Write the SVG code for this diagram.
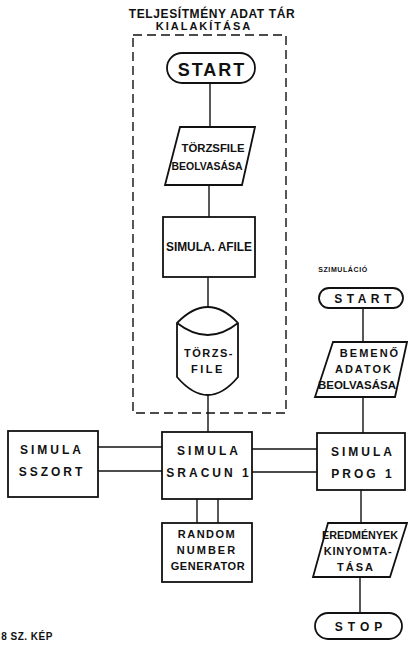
<svg xmlns="http://www.w3.org/2000/svg" width="408" height="646" viewBox="0 0 408 646">
<style>
.s{fill:none;stroke:#111;stroke-width:1.8}
.c{fill:none;stroke:#111;stroke-width:1.4}
.d{fill:none;stroke:#111;stroke-width:1.4;stroke-dasharray:9 5}
text{font-family:"Liberation Sans",Arial,sans-serif;font-weight:bold;fill:#111;text-anchor:middle}
.t{font-size:12px;letter-spacing:3px}
.n{font-size:11px}
</style>
<rect width="408" height="646" fill="#fff"/>
<g id="title">
<text x="212" y="18" font-size="12" letter-spacing="0.6">TELJESÍTMÉNY ADAT TÁR</text>
<text x="204" y="30" font-size="11" letter-spacing="2">KIALAKÍTÁSA</text>
<rect x="133" y="35" width="153" height="378" class="d"/>
</g>
<g id="connectors">
<line x1="210" y1="83" x2="210" y2="127" class="c"/>
<line x1="209" y1="185" x2="209" y2="217" class="c"/>
<line x1="208" y1="277" x2="208" y2="307" class="c"/>
<line x1="208" y1="395" x2="208" y2="432" class="c"/>
<line x1="98" y1="447" x2="162" y2="447" class="c"/>
<line x1="98" y1="471" x2="162" y2="471" class="c"/>
<line x1="252" y1="449" x2="317" y2="449" class="c"/>
<line x1="252" y1="472" x2="317" y2="472" class="c"/>
<line x1="197" y1="499" x2="197" y2="523" class="c"/>
<line x1="218" y1="499" x2="218" y2="523" class="c"/>
<line x1="363" y1="308" x2="363" y2="342" class="c"/>
<line x1="363" y1="397" x2="363" y2="433" class="c"/>
<line x1="361" y1="490" x2="361" y2="523" class="c"/>
<line x1="360" y1="577" x2="360" y2="613" class="c"/>
</g>
<g id="start1">
<rect x="167" y="53" width="88" height="30" rx="15" class="s"/>
<text x="212" y="76" font-size="18" letter-spacing="2">START</text>
</g>
<g id="torzsfile-beolvasasa">
<polygon points="180,127 255,127 242,185 165,185" class="s"/>
<text x="213" y="152" class="n" textLength="63" lengthAdjust="spacingAndGlyphs">TÖRZSFILE</text>
<text x="207" y="170" class="n" textLength="71" lengthAdjust="spacingAndGlyphs">BEOLVASÁSA</text>
</g>
<g id="simula-afile">
<rect x="163" y="217" width="92" height="60" class="s"/>
<text x="209" y="251" font-size="12" textLength="86" lengthAdjust="spacingAndGlyphs">SIMULA. AFILE</text>
</g>
<g id="torzsfile-db">
<path d="M177,323 Q208,291 238,323 L238,377 Q208,413 177,377 Z" class="s"/>
<path d="M177,323 Q208,347 238,323" class="s"/>
<text x="209" y="357" font-size="11" letter-spacing="1.5">TÖRZS-</text>
<text x="208" y="373" font-size="11" letter-spacing="2.5">FILE</text>
</g>
<g id="sszort">
<rect x="8" y="431" width="90" height="66" class="s"/>
<text x="52" y="454" class="t">SIMULA</text>
<text x="52" y="476" class="t">SSZORT</text>
</g>
<g id="sracun">
<rect x="162" y="432" width="90" height="67" class="s"/>
<text x="209" y="455" class="t">SIMULA</text>
<text x="209" y="477" class="t">SRACUN 1</text>
</g>
<g id="random">
<rect x="162" y="523" width="90" height="59" class="s"/>
<text x="207" y="538" font-size="11" letter-spacing="1.5">RANDOM</text>
<text x="207" y="554" font-size="11" letter-spacing="2">NUMBER</text>
<text x="208" y="570" font-size="11" letter-spacing="0.6">GENERATOR</text>
</g>
<g id="szimulacio-label">
<text x="343" y="272" font-size="7" letter-spacing="0.6">SZIMULÁCIÓ</text>
</g>
<g id="start2">
<rect x="319" y="288" width="84" height="20" rx="10" class="s"/>
<text x="365" y="303" font-size="12" letter-spacing="4.5">START</text>
</g>
<g id="bemeno-adatok">
<polygon points="333,342 407,342 395,397 315,397" class="s"/>
<text x="370" y="357" font-size="11" letter-spacing="2">BEMENŐ</text>
<text x="364" y="373" font-size="11" letter-spacing="2">ADATOK</text>
<text x="357" y="389" class="n" textLength="78" lengthAdjust="spacingAndGlyphs">BEOLVASÁSA</text>
</g>
<g id="prog1">
<rect x="317" y="433" width="88" height="57" class="s"/>
<text x="363" y="456" class="t">SIMULA</text>
<text x="363" y="478" class="t">PROG 1</text>
</g>
<g id="eredmenyek">
<polygon points="328,523 407,523 390,577 313,577" class="s"/>
<text x="360" y="539" class="n" textLength="76" lengthAdjust="spacingAndGlyphs">EREDMÉNYEK</text>
<text x="358" y="555" font-size="11" letter-spacing="0.8">KINYOMTA-</text>
<text x="356" y="571" font-size="11" letter-spacing="2">TÁSA</text>
</g>
<g id="stop">
<rect x="315" y="613" width="87" height="26" rx="13" class="s"/>
<text x="361" y="631" font-size="12" letter-spacing="5">STOP</text>
</g>
<g id="caption">
<text x="27" y="640" font-size="10" letter-spacing="0.5">8 SZ. KÉP</text>
</g>
</svg>
